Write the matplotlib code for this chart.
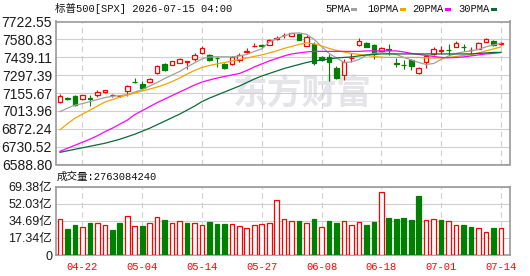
"""
SPX daily K-line with moving averages and volume (EastMoney style).
"""

import numpy as np
import pandas as pd
import matplotlib
matplotlib.use("Agg")
import matplotlib.pyplot as plt
from matplotlib.patches import Rectangle

# ---- data ----
# trading days shown, US market holidays removed
dates = pd.bdate_range("2026-04-17", "2026-07-14")
dates = dates[~dates.isin(pd.to_datetime(["2026-05-25", "2026-06-19", "2026-07-03"]))]

opens = [7081.8, 7113.0, 7129.6, 7108.9, 7113.0, 7137.5, 7161.4, 7139.0, 7131.0, 7175.0,
         7242.0, 7230.6, 7246.6, 7310.3, 7381.9, 7379.5, 7395.4, 7404.0, 7421.7, 7469.5,
         7453.5, 7432.0, 7387.5, 7381.9, 7416.1, 7484.0, 7528.0, 7534.0, 7535.5, 7587.0,
         7612.0, 7607.2, 7623.1, 7527.6, 7541.1, 7443.2, 7443.2, 7355.6, 7299.9, 7433.0,
         7533.1, 7554.6, 7533.1, 7489.4, 7503.0, 7390.0, 7378.0, 7413.7, 7314.2, 7401.8,
         7465.5, 7492.0, 7499.0, 7521.2, 7521.0, 7497.0, 7505.3, 7561.0, 7567.4, 7547.0]
highs = [7148.7, 7124.7, 7140.7, 7143.1, 7143.0, 7177.3, 7180.0, 7151.0, 7143.0, 7222.6,
         7278.0, 7248.9, 7276.0, 7374.0, 7389.9, 7408.0, 7435.2, 7411.4, 7469.5, 7527.6,
         7461.5, 7443.2, 7395.4, 7448.0, 7475.0, 7511.7, 7549.0, 7546.6, 7586.5, 7604.8,
         7631.0, 7633.0, 7627.0, 7612.7, 7562.6, 7447.0, 7461.5, 7368.4, 7421.7, 7469.5,
         7588.9, 7558.0, 7541.1, 7517.2, 7541.1, 7429.7, 7413.7, 7421.7, 7362.0, 7453.5,
         7517.2, 7527.6, 7547.5, 7565.0, 7546.7, 7517.2, 7557.0, 7592.8, 7576.9, 7562.6]
lows = [7077.0, 7097.7, 7055.5, 7103.3, 7050.0, 7124.8, 7159.0, 7125.0, 7125.0, 7129.6,
        7238.0, 7177.3, 7241.0, 7308.0, 7326.2, 7377.0, 7389.9, 7347.7, 7408.1, 7463.8,
        7405.8, 7360.4, 7347.7, 7376.0, 7400.2, 7475.0, 7522.7, 7514.8, 7533.1, 7578.5,
        7588.9, 7605.0, 7572.0, 7525.0, 7373.9, 7410.0, 7249.0, 7270.5, 7262.5, 7397.8,
        7531.0, 7518.0, 7421.7, 7481.4, 7457.5, 7362.0, 7347.7, 7334.1, 7306.3, 7354.0,
        7457.5, 7461.5, 7449.6, 7517.2, 7487.8, 7453.5, 7501.3, 7559.0, 7529.2, 7537.1]
closes = [7129.6, 7110.0, 7063.5, 7137.5, 7109.0, 7167.0, 7177.3, 7141.0, 7133.0, 7214.7,
          7240.0, 7196.4, 7270.5, 7371.6, 7336.5, 7405.8, 7427.3, 7406.0, 7459.1, 7511.7,
          7416.1, 7430.0, 7355.6, 7437.6, 7453.5, 7487.0, 7530.0, 7532.0, 7575.3, 7590.0,
          7615.0, 7628.7, 7575.3, 7599.2, 7395.4, 7413.7, 7403.4, 7272.8, 7403.4, 7436.0,
          7567.4, 7521.2, 7461.5, 7509.3, 7499.0, 7389.0, 7376.0, 7368.4, 7355.6, 7445.6,
          7507.7, 7494.0, 7497.0, 7553.0, 7519.0, 7500.0, 7553.0, 7587.3, 7533.1, 7549.0]

ma5 = [7007.8, 7035.6, 7059.5, 7071.5, 7087.4, 7103.3, 7119.2, 7129.6, 7135.1, 7143.1,
       7163.0, 7182.9, 7210.8, 7238.6, 7270.5, 7298.4, 7326.2, 7362.0, 7393.8, 7425.7,
       7441.6, 7443.2, 7443.2, 7441.6, 7449.6, 7461.5, 7485.4, 7505.3, 7561.0, 7584.9,
       7608.8, 7628.7, 7632.6, 7620.7, 7580.9, 7525.2, 7469.5, 7433.6, 7397.8, 7401.8,
       7421.7, 7453.5, 7469.5, 7475.0, 7469.5, 7461.5, 7437.6, 7417.7, 7397.8, 7381.9,
       7389.9, 7421.7, 7449.6, 7469.5, 7481.4, 7489.4, 7501.3, 7521.2, 7537.1, 7549.1]
ma10 = [6864.5, 6912.3, 6956.0, 6987.9, 7019.7, 7051.6, 7083.4, 7103.3, 7123.2, 7139.1,
        7155.0, 7170.9, 7186.9, 7202.8, 7222.7, 7246.6, 7274.4, 7306.3, 7334.1, 7358.0,
        7373.9, 7385.9, 7397.8, 7408.2, 7421.7, 7433.6, 7445.6, 7457.5, 7473.4, 7489.4,
        7509.3, 7525.2, 7541.1, 7553.0, 7545.1, 7529.2, 7509.3, 7493.3, 7481.4, 7469.5,
        7461.5, 7453.5, 7445.6, 7439.2, 7437.6, 7437.6, 7437.6, 7437.6, 7437.6, 7433.6,
        7433.6, 7433.6, 7437.6, 7445.6, 7453.5, 7461.5, 7473.4, 7489.4, 7505.3, 7521.2]
ma20 = [6693.4, 6717.2, 6741.1, 6765.0, 6788.9, 6816.7, 6848.6, 6876.4, 6908.3, 6940.1,
        6984.1, 7015.7, 7047.6, 7079.4, 7107.3, 7135.1, 7163.0, 7190.9, 7218.7, 7242.6,
        7258.5, 7274.4, 7286.4, 7298.4, 7310.3, 7334.2, 7362.0, 7385.9, 7409.8, 7429.7,
        7449.6, 7465.5, 7473.4, 7481.4, 7485.4, 7485.4, 7485.4, 7485.4, 7485.4, 7485.4,
        7485.4, 7489.4, 7489.4, 7489.4, 7489.4, 7489.4, 7481.4, 7469.5, 7461.5, 7453.5,
        7445.6, 7437.6, 7435.2, 7437.6, 7441.6, 7449.6, 7457.5, 7465.5, 7469.5, 7477.4]
ma30 = [6685.4, 6697.3, 6709.3, 6721.2, 6733.2, 6745.1, 6757.0, 6772.9, 6788.9, 6808.8,
        6828.7, 6852.5, 6876.4, 6904.3, 6932.2, 6960.0, 6987.9, 7019.7, 7051.6, 7087.4,
        7115.2, 7139.1, 7163.0, 7186.9, 7210.8, 7238.6, 7266.5, 7290.4, 7310.3, 7330.2,
        7350.1, 7366.0, 7381.9, 7397.8, 7409.8, 7417.7, 7425.7, 7433.6, 7437.6, 7441.6,
        7449.6, 7457.5, 7461.5, 7465.5, 7465.5, 7465.5, 7465.5, 7465.5, 7465.5, 7465.5,
        7465.5, 7465.5, 7465.5, 7465.5, 7465.5, 7465.5, 7469.5, 7473.4, 7477.4, 7477.4]

# volume in 亿 (1e8), and whether the bar is drawn as "up" (red)
volumes = [36.3, 26.4, 30.5, 28.1, 32.5, 32.2, 30.2, 25.4, 32.5, 39.3,
           29.1, 29.5, 32.2, 38.3, 35.6, 32.5, 34.2, 32.5, 32.5, 30.5,
           33.5, 31.8, 31.8, 31.5, 29.5, 27.4, 30.5, 31.5, 32.2, 55.9,
           36.3, 34.2, 34.2, 32.2, 36.3, 28.8, 34.2, 32.5, 34.9, 30.2,
           33.9, 30.5, 33.5, 64.3, 37.3, 36.3, 37.3, 35.2, 59.9, 35.9,
           36.9, 35.2, 34.9, 30.2, 30.2, 28.4, 27.1, 23.1, 27.4, 27.63]
vol_up = [1, 0, 0, 1, 0, 1, 1, 0, 0, 1, 1, 0, 1, 1, 0, 1, 1, 0, 1, 1,
          0, 0, 0, 1, 1, 1, 1, 1, 1, 1, 1, 1, 0, 1, 0, 1, 0, 0, 1, 1,
          1, 0, 0, 1, 0, 0, 0, 0, 0, 1, 1, 0, 1, 1, 0, 0, 1, 1, 0, 1]
last_volume = "2763084240"

price_ticks = [6588.80, 6730.52, 6872.24, 7013.96, 7155.67, 7297.39, 7439.11, 7580.83, 7722.55]
vol_ticks = [0, 17.34, 34.69, 52.03, 69.38]
date_ticks = ["04-22", "05-04", "05-14", "05-27", "06-08", "06-18", "07-01", "07-14"]

title = "标普500[SPX] 2026-07-15 04:00"
ma_names = ["5PMA", "10PMA", "20PMA", "30PMA"]

# ---- style ----
red = "#ff0000"
green = "#008000"
grid_c = "#cfcfcf"
spine_c = "#9a9a9a"
ma_colors = ["#a0a0a0", "#f5a300", "#ff00ff", "#0a6b38"]
mono = ["Liberation Mono", "Noto Sans CJK SC"]
sans = ["Liberation Sans", "Noto Sans CJK SC"]

W, H = 530, 276
fig = plt.figure(figsize=(W / 100, H / 100), dpi=100, facecolor="white")


def fx(px):
    return px / W


def fy(py):
    return 1 - py / H


ax = fig.add_axes([fx(55.5), fy(164.5), fx(454), 143 / H])
vax = fig.add_axes([fx(55.5), fy(255), fx(454), 68.3 / H])

x = np.arange(len(dates))
labels = [d.strftime("%m-%d") for d in dates]
tick_pos = [labels.index(t) for t in date_ticks]

# ---- price panel ----
o = np.array(opens)
c = np.array(closes)
up = c >= o
cols = np.where(up, red, green)
faces = np.where(up, "white", green)

ax.vlines(x, lows, highs, colors=cols, linewidth=0.8, zorder=2)
body = np.maximum(np.abs(c - o), 0.6)
ax.bar(x, body, bottom=np.minimum(o, c), width=0.62, color=faces,
       edgecolor=cols, linewidth=0.9, zorder=3)

for ma, col in zip([ma5, ma10, ma20, ma30], ma_colors):
    ax.plot(x, ma, color=col, linewidth=0.9, zorder=4)

# watermark
ax.text(fx(302), fy(93), "东方财富", transform=fig.transFigure, ha="center",
        va="center", fontsize=25, fontweight="bold", family="Noto Sans CJK SC",
        color="#e4e4e9", zorder=0.3)

ax.set_xlim(-0.6, 60.15)
ax.set_ylim(price_ticks[0], price_ticks[-1])
ax.set_yticks(price_ticks)
ax.set_yticklabels([f"{v:.2f}" for v in price_ticks], family=sans, fontsize=10,
                   color="#1a1a1a")
ax.set_xticks(tick_pos)
ax.set_xticklabels([])
ax.tick_params(length=0, pad=2.5)
ax.grid(True, axis="y", color=grid_c, linewidth=0.8, linestyle="-")
ax.grid(True, axis="x", color=grid_c, linewidth=0.8, linestyle=(0, (5, 3.5)))
ax.set_axisbelow(True)
for s in ax.spines.values():
    s.set_color(spine_c)
    s.set_linewidth(1.2)

# ---- volume panel ----
vcols = [red if u else green for u in vol_up]
vfaces = ["white" if u else green for u in vol_up]
vax.bar(x, volumes, width=0.62, color=vfaces, edgecolor=vcols, linewidth=0.9, zorder=3)

vax.set_xlim(-0.6, 60.15)
vax.set_ylim(vol_ticks[0], vol_ticks[-1])
vax.set_yticks(vol_ticks)
vax.set_yticklabels(["0" if v == 0 else f"{v:.2f}亿" for v in vol_ticks],
                    family=sans, fontsize=9, color="#1a1a1a")
vax.set_xticks(tick_pos)
vax.set_xticklabels(date_ticks, family=mono, fontsize=7.6, color=red)
vax.tick_params(length=0, pad=2.5)
vax.tick_params(axis="x", pad=5)
vax.grid(True, axis="y", color=grid_c, linewidth=0.8, linestyle="-")
vax.grid(True, axis="x", color=grid_c, linewidth=0.8, linestyle=(0, (5, 3.5)))
vax.set_axisbelow(True)
for s in vax.spines.values():
    s.set_color(spine_c)
    s.set_linewidth(1.2)

# ---- header texts ----
fig.text(fx(55), fy(8.5), title, family=mono, fontsize=7.6, va="center", ha="left",
         color="#111111")
fig.text(fx(57), fy(177), "成交量:" + last_volume, family=mono, fontsize=7.6,
         va="center", ha="left", color="#111111")

leg_x = [325, 367, 412, 458]
for name, col, lx in zip(ma_names, ma_colors, leg_x):
    t = fig.text(fx(lx), fy(8.5), name, family=mono, fontsize=7.6, va="center",
                 ha="left", color="#111111")
    dash_x = lx + 6.1 * len(name) + 2
    fig.patches.append(Rectangle((fx(dash_x), fy(11)), fx(6), 2.5 / H,
                                 transform=fig.transFigure, facecolor=col,
                                 edgecolor="none"))

fig.savefig("out.png", dpi=100, facecolor="white")
